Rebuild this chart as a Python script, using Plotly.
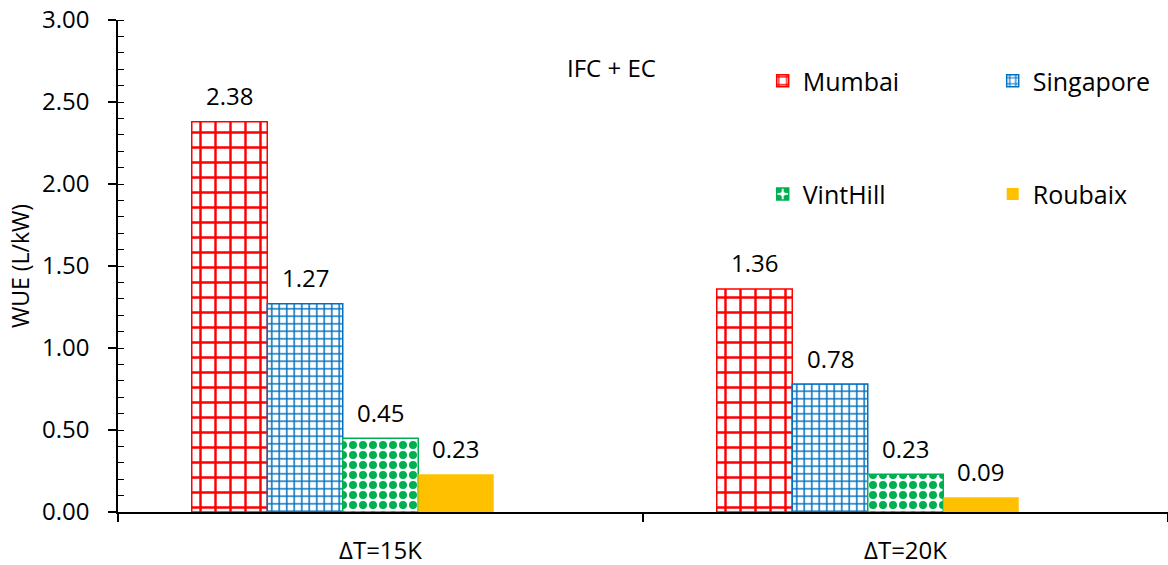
import plotly.graph_objects as go

categories = ["ΔT=15K", "ΔT=20K"]
mumbai = [2.38, 1.36]
singapore = [1.27, 0.78]
vinthill = [0.45, 0.23]
roubaix = [0.23, 0.09]
y_ticks = [0, 0.5, 1.0, 1.5, 2.0, 2.5, 3.0]

FONT = "Open Sans"
W, H = 1168, 565
ML, MR, MT, MB = 118, 0, 20, 53
BARGAP = 0.281
N_SLOTS = 5  # four series plus one empty slot, as in the source chart

fig = go.Figure()

series = [
    ("Mumbai", mumbai,
     dict(shape="+", fgcolor="#FF0000", bgcolor="white", size=15, solidity=0.3, fillmode="replace"),
     dict(color="#FF0000", width=1.5), "legend"),
    ("Singapore", singapore,
     dict(shape="+", fgcolor="#0070C0", bgcolor="white", size=7.5, solidity=0.36, fillmode="replace"),
     dict(color="#0070C0", width=1.5), "legend"),
    ("VintHill", vinthill,
     dict(shape=".", fgcolor="#00B050", bgcolor="white", size=10, solidity=0.5, fillmode="replace"),
     dict(color="#00B050", width=1.5), "legend2"),
    ("Roubaix", roubaix, None, dict(width=0), "legend2"),
]

for name, vals, pattern, line, leg in series:
    marker = dict(line=line)
    if pattern is None:
        marker["color"] = "#FFC000"
    else:
        marker["pattern"] = pattern
    fig.add_trace(go.Bar(name=name, x=categories, y=vals, marker=marker, legend=leg))

# empty fifth series slot
fig.add_trace(go.Bar(name="", x=categories, y=[None, None], showlegend=False, hoverinfo="skip"))

# data labels above bars
cat_px = (W - ML - MR) / len(categories)
slot_px = cat_px * (1 - BARGAP) / N_SLOTS
for i, (name, vals, *_rest) in enumerate(series):
    for c, v in zip(categories, vals):
        fig.add_annotation(x=c, y=v, xref="x", yref="y", text=f"{v:.2f}",
                           showarrow=False, yanchor="middle",
                           xshift=(i - (N_SLOTS - 1) / 2) * slot_px, yshift=26,
                           font=dict(family=FONT, size=24, color="black"))

fig.add_annotation(text="IFC + EC", xref="paper", yref="paper", x=0.47, y=0.904,
                   xanchor="center", yanchor="middle",
                   showarrow=False, font=dict(family=FONT, size=24, color="black"))

fig.update_layout(
    width=W, height=H,
    margin=dict(l=ML, r=MR, t=MT, b=MB, autoexpand=False),
    plot_bgcolor="white", paper_bgcolor="white",
    barmode="group", bargap=BARGAP, bargroupgap=0,
    font=dict(family=FONT, size=24, color="black"),
    legend=dict(orientation="h", x=0.614, y=0.876, xanchor="left", yanchor="middle",
                entrywidth=185, entrywidthmode="pixels", font=dict(size=25),
                bgcolor="rgba(0,0,0,0)"),
    legend2=dict(orientation="h", x=0.614, y=0.646, xanchor="left", yanchor="middle",
                 entrywidth=185, entrywidthmode="pixels", font=dict(size=25),
                 bgcolor="rgba(0,0,0,0)"),
    yaxis=dict(range=[0, 3], tickvals=y_ticks, tickformat=".2f",
               showline=True, linecolor="black", linewidth=1.5,
               ticks="outside", ticklen=8, tickcolor="black", tickwidth=1.5,
               minor=dict(dtick=0.1, ticks="inside", ticklen=6, tickcolor="black", tickwidth=1),
               showgrid=False, zeroline=False, ticklabelstandoff=14,
               title=dict(text="WUE (L/kW)", font=dict(size=23), standoff=6),
               tickfont=dict(size=24)),
    xaxis=dict(showline=True, linecolor="black", linewidth=1.5,
               ticks="outside", tickson="boundaries", ticklen=8, tickcolor="black", tickwidth=1.5,
               showgrid=False, tickfont=dict(size=24), ticklabelstandoff=16),
)

fig.write_html("out.html", config={"displayModeBar": False},
               post_script="document.body.style.margin='0';")
